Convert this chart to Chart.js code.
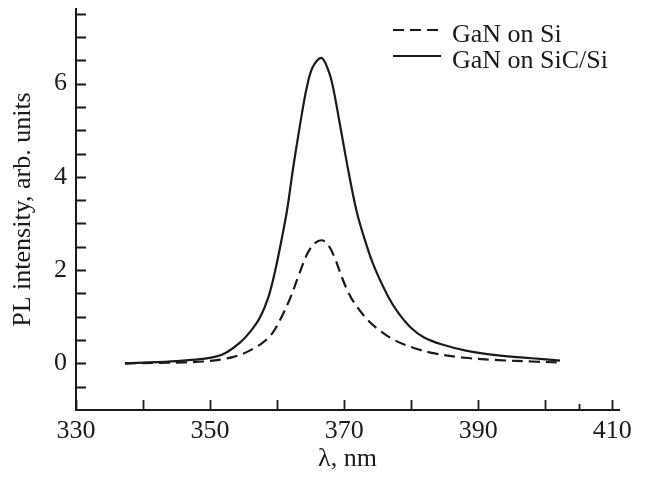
<!DOCTYPE html>
<html>
<head>
<meta charset="utf-8">
<script src="https://cdn.jsdelivr.net/npm/chart.js@4"></script>
<style>
  html, body { margin: 0; padding: 0; background: #fff; }
  #wrap { width: 646px; height: 477px; }
</style>
</head>
<body>
<div id="wrap"><canvas id="c" width="646" height="477"></canvas></div>
<script>
// ---- data ----
const seriesNames = ["GaN on Si", "GaN on SiC/Si"];

const lambdaSi = [337.3, 342, 346, 349, 351.5, 353.5, 355, 356.5, 358, 359.3, 360.4, 361.9, 363.3, 364.5, 365.5, 366.6, 367.5, 368.5, 369.6, 370.5, 371.5, 373.2, 374.8, 377.5, 380.4, 383.3, 388, 393, 398, 402.2];
const intensitySi = [0, 0.01, 0.02, 0.04, 0.08, 0.14, 0.21, 0.32, 0.46, 0.65, 0.92, 1.38, 1.92, 2.35, 2.56, 2.64, 2.56, 2.3, 1.87, 1.56, 1.3, 0.98, 0.76, 0.5, 0.33, 0.22, 0.12, 0.07, 0.04, 0.02];

const lambdaSiC = [337.3, 341, 345, 348.5, 351, 352.5, 354.5, 356, 357.5, 358.7, 359.7, 360.7, 361.5, 362.4, 363.4, 364.4, 365.3, 366.6, 367.6, 368.3, 369.4, 370.6, 371.8, 372.8, 374.4, 376.5, 378, 380, 382, 384.5, 388, 393, 398, 402.2];
const intensitySiC = [0, 0.02, 0.05, 0.09, 0.15, 0.24, 0.45, 0.68, 1.0, 1.42, 1.98, 2.68, 3.3, 4.2, 5.1, 5.9, 6.35, 6.55, 6.3, 5.95, 5.1, 4.15, 3.3, 2.78, 2.1, 1.45, 1.1, 0.76, 0.55, 0.41, 0.28, 0.17, 0.11, 0.06];

const xTickValues = [330, 340, 350, 360, 370, 380, 390, 400, 410];
const xTickLabels = ["330", "", "350", "", "370", "", "390", "", "410"];
const xShortTicks = [405];
const yTickValues = [-0.5, 0, 0.5, 1, 1.5, 2, 2.5, 3, 3.5, 4, 4.5, 5, 5.5, 6, 6.5, 7, 7.5];
const yTickLabels = ["", "0", "", "", "", "2", "", "", "", "4", "", "", "", "6", "", "", ""];

const xTitle = "λ, nm";
const yTitle = "PL intensity, arb. units";

// ---- chart ----
const FONT = "'Liberation Serif', 'Times New Roman', serif";

const toPoints = (xs, ys) => xs.map((x, i) => ({ x: x, y: ys[i] }));

const inwardTicks = {
  id: 'inwardTicks',
  afterDraw(chart) {
    const ctx = chart.ctx;
    const xs = chart.scales.x, ys = chart.scales.y;
    const area = chart.chartArea;
    ctx.save();
    ctx.strokeStyle = '#1a1a1a';
    ctx.lineWidth = 1.8;
    ctx.beginPath();
    xTickValues.forEach(v => {
      const px = Math.round(xs.getPixelForValue(v)) + 0.5;
      ctx.moveTo(px, area.bottom);
      ctx.lineTo(px, area.bottom - 10);
    });
    xShortTicks.forEach(v => {
      const px = Math.round(xs.getPixelForValue(v)) + 0.5;
      ctx.moveTo(px, area.bottom);
      ctx.lineTo(px, area.bottom - 6);
    });
    yTickValues.forEach(v => {
      const py = Math.round(ys.getPixelForValue(v)) + 0.5;
      ctx.moveTo(area.left, py);
      ctx.lineTo(area.left + 10, py);
    });
    ctx.stroke();
    ctx.restore();
  }
};

const lineLegend = {
  id: 'lineLegend',
  afterDraw(chart) {
    const ctx = chart.ctx;
    ctx.save();
    ctx.font = "26px " + FONT;
    ctx.fillStyle = '#1a1a1a';
    ctx.textBaseline = 'alphabetic';
    const rows = [{ y: 30, base: 42 }, { y: 56, base: 68 }];
    chart.data.datasets.forEach((ds, i) => {
      const r = rows[i];
      ctx.strokeStyle = ds.borderColor;
      ctx.lineWidth = ds.borderWidth;
      ctx.setLineDash(ds.borderDash || []);
      ctx.beginPath();
      ctx.moveTo(393, r.y);
      ctx.lineTo(441, r.y);
      ctx.stroke();
      ctx.setLineDash([]);
      ctx.fillText(ds.label, 452, r.base);
    });
    ctx.restore();
  }
};

new Chart(document.getElementById('c'), {
  type: 'line',
  data: {
    datasets: [
      {
        label: seriesNames[0],
        data: toPoints(lambdaSi, intensitySi),
        borderColor: '#1a1a1a',
        borderWidth: 2.2,
        borderDash: [11, 6],
        pointRadius: 0,
        fill: false,
        tension: 0.35
      },
      {
        label: seriesNames[1],
        data: toPoints(lambdaSiC, intensitySiC),
        borderColor: '#1a1a1a',
        borderWidth: 2.2,
        pointRadius: 0,
        fill: false,
        tension: 0.35
      }
    ]
  },
  options: {
    responsive: false,
    animation: false,
    devicePixelRatio: 1,
    layout: { padding: { top: 9, right: 27, bottom: 0, left: 0 } },
    plugins: { legend: { display: false }, tooltip: { enabled: false } },
    scales: {
      x: {
        type: 'linear',
        min: 330, max: 411,
        afterBuildTicks: s => { s.ticks = xTickValues.map(v => ({ value: v })); },
        afterFit: s => { s.height = 67; s.paddingLeft = 0; s.paddingRight = 0; },
        ticks: {
          autoSkip: false, maxRotation: 0,
          callback: (v, i) => xTickLabels[i],
          color: '#1a1a1a', padding: 6,
          font: { family: FONT, size: 26 }
        },
        grid: { display: true, drawOnChartArea: false, drawTicks: false },
        border: { display: true, color: '#1a1a1a', width: 2 },
        title: {
          display: true, text: xTitle, color: '#1a1a1a',
          font: { family: FONT, size: 26 }, padding: { top: 0, bottom: 2 }
        }
      },
      y: {
        type: 'linear',
        min: -1, max: 7.6,
        afterBuildTicks: s => { s.ticks = yTickValues.map(v => ({ value: v })); },
        afterFit: s => { s.width = 76; s.paddingTop = 0; s.paddingBottom = 0; },
        ticks: {
          autoSkip: false,
          callback: (v, i) => yTickLabels[i],
          color: '#1a1a1a', padding: 9,
          font: { family: FONT, size: 26 }
        },
        grid: { display: true, drawOnChartArea: false, drawTicks: false },
        border: { display: true, color: '#1a1a1a', width: 2 },
        title: {
          display: true, text: yTitle, color: '#1a1a1a',
          font: { family: FONT, size: 26 }, padding: { top: 8, bottom: 0 }
        }
      }
    }
  },
  plugins: [inwardTicks, lineLegend]
});
</script>
</body>
</html>
